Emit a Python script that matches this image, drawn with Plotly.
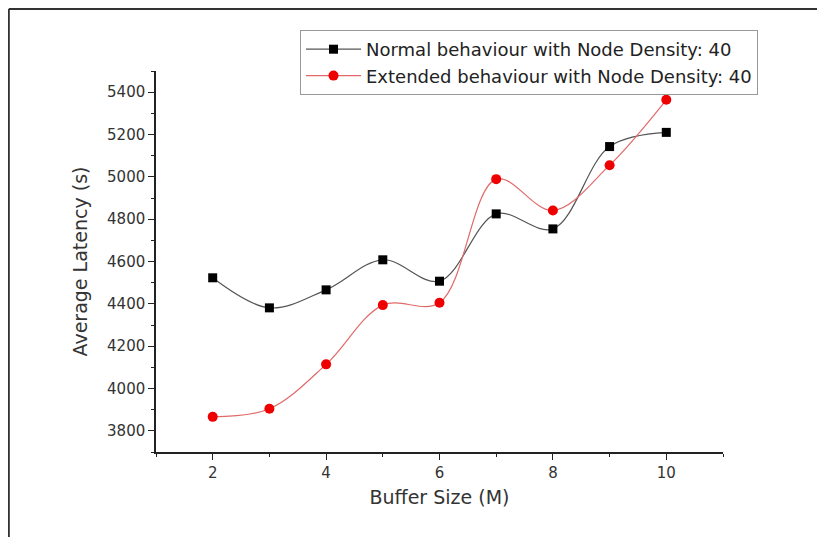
import plotly.graph_objects as go

buffer_size = [2, 3, 4, 5, 6, 7, 8, 9, 10]
normal_latency = [4523, 4381, 4466, 4608, 4507, 4825, 4754, 5143, 5210]
extended_latency = [3866, 3904, 4114, 4394, 4405, 4989, 4841, 5055, 5364]

FONT = "DejaVu Sans, Liberation Sans, Arial, sans-serif"
# page body has an 8px margin, so the figure is drawn offset by 8px
OFF = 8
W, H = 825 - OFF, 537 - OFF


def px_x(p):
    return (p - OFF) / W


def px_y(p):
    return 1 - (p - OFF) / H


fig = go.Figure()
fig.add_trace(go.Scatter(
    x=buffer_size, y=normal_latency, mode="lines+markers",
    name="Normal behaviour with Node Density: 40",
    line=dict(color="#555555", width=1.2, shape="spline", smoothing=1),
    marker=dict(symbol="square", color="black", size=9),
))
fig.add_trace(go.Scatter(
    x=buffer_size, y=extended_latency, mode="lines+markers",
    name="Extended behaviour with Node Density: 40",
    line=dict(color="#e06a6a", width=1.2, shape="spline", smoothing=1),
    marker=dict(symbol="circle", color="#ee0000", size=10),
))

axis_common = dict(
    showline=True, linecolor="#222222", linewidth=1.5,
    ticks="outside", ticklen=6, tickwidth=1.3, tickcolor="#222222",
    showgrid=False, zeroline=False, automargin=False,
    tickfont=dict(family=FONT, size=15, color="#333333"),
)

fig.update_xaxes(
    domain=[px_x(156), px_x(723)],
    range=[1, 11], tick0=2, dtick=2,
    minor=dict(dtick=1, tick0=1, ticks="outside", ticklen=3, tickcolor="#222222"),
    title=dict(text="Buffer Size (M)", font=dict(family=FONT, size=19, color="#333333"), standoff=10),
    **axis_common,
)
fig.update_yaxes(
    domain=[px_y(452), px_y(71)],
    range=[3700, 5500], tick0=3800, dtick=200,
    minor=dict(dtick=100, tick0=3700, ticks="outside", ticklen=3, tickcolor="#222222"),
    title=dict(text="Average Latency (s)", font=dict(family=FONT, size=19, color="#333333"), standoff=14),
    **axis_common,
)

# outer frame (top and left edges)
fig.add_shape(type="line", xref="paper", yref="paper", x0=0.001, x1=1.0, y0=0.998, y1=0.998,
              line=dict(color="#333333", width=2))
fig.add_shape(type="line", xref="paper", yref="paper", x0=0.001, x1=0.001, y0=0.998, y1=0,
              line=dict(color="#333333", width=2))

fig.update_layout(
    width=W, height=H,
    margin=dict(l=0, r=0, t=0, b=0),
    paper_bgcolor="white", plot_bgcolor="white",
    showlegend=True,
    legend=dict(
        x=px_x(300), y=px_y(30), xanchor="left", yanchor="top",
        bordercolor="#999999", borderwidth=1, bgcolor="white",
        font=dict(family=FONT, size=18, color="#222222"),
        tracegroupgap=0, itemwidth=55,
    ),
)

fig.write_html("out.html")
